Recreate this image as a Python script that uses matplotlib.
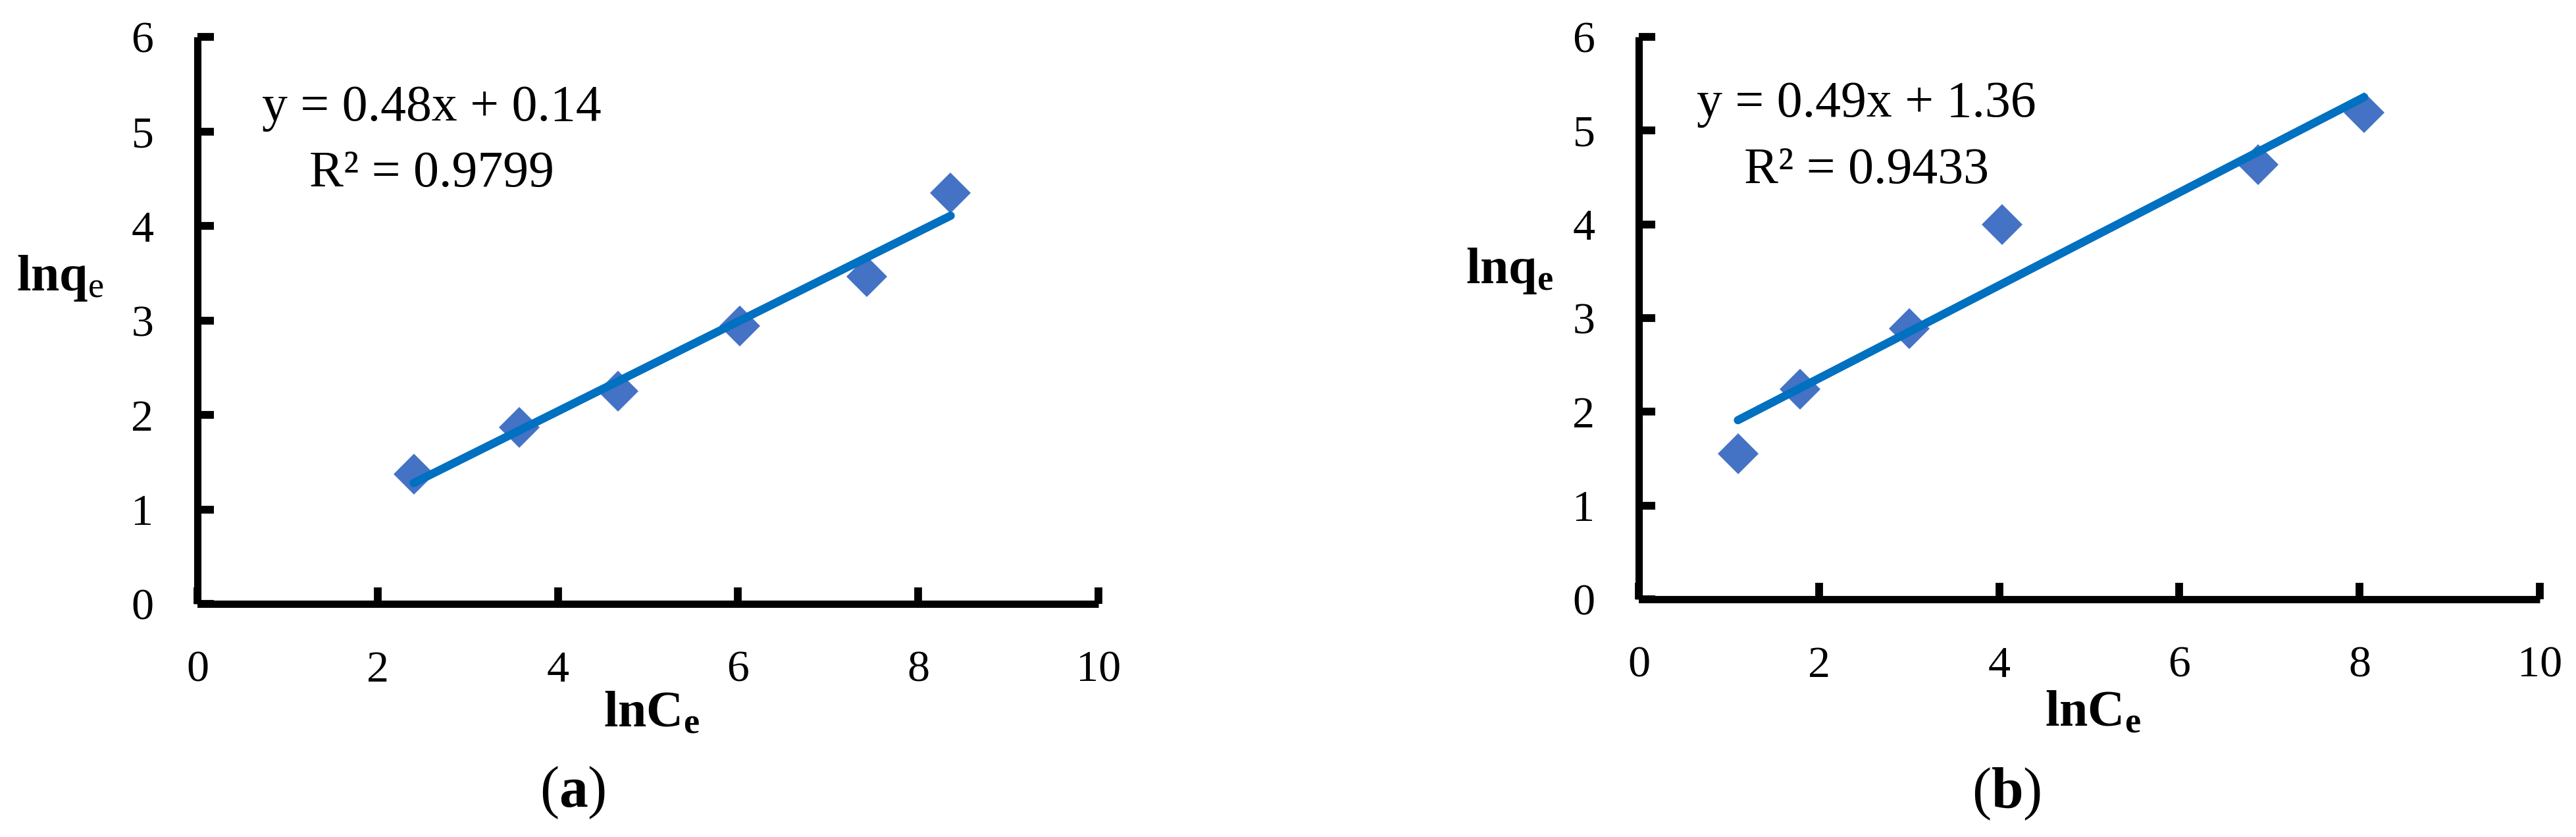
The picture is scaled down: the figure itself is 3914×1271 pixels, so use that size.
import numpy as np
import matplotlib
matplotlib.use("Agg")
import matplotlib.pyplot as plt


# panel (a)
lnCe_a = [2.40, 3.57, 4.67, 6.02, 7.43, 8.36]
lnqe_a = [1.37, 1.87, 2.25, 2.94, 3.46, 4.35]
eq_a = ["y = 0.48x + 0.14", "R\u00b2 = 0.9799"]

# panel (b)
lnCe_b = [1.10, 1.79, 3.00, 4.03, 6.87, 8.05]
lnqe_b = [1.55, 2.24, 2.89, 4.00, 4.64, 5.19]
eq_b = ["y = 0.49x + 1.36", "R\u00b2 = 0.9433"]

xticks = [0, 2, 4, 6, 8, 10]
yticks = [0, 1, 2, 3, 4, 5, 6]

marker_color = '#4472C4'
line_color = '#0070C0'

plt.rcParams['font.family'] = 'Liberation Serif'
plt.rcParams['mathtext.fontset'] = 'custom'
plt.rcParams['mathtext.rm'] = 'Liberation Serif'
plt.rcParams['mathtext.bf'] = 'Liberation Serif:bold'
plt.rcParams['mathtext.it'] = 'Liberation Serif:italic'

fig = plt.figure(figsize=(39.14, 12.71), dpi=100)
ax_a = fig.add_axes([0.07665, 0.27852, 0.34977, 0.67742])
ax_b = fig.add_axes([0.63618, 0.28403, 0.34977, 0.67190])

panels = [
    (ax_a, lnCe_a, lnqe_a, eq_a, (2.60, 5.115, 4.418),
     r'$\mathbf{lnq}_{\mathrm{e}}$', (-0.2009, 0.5528), -0.2172),
    (ax_b, lnCe_b, lnqe_b, eq_b, (2.53, 5.151, 4.441),
     r'$\mathbf{lnq}_{\mathbf{e}}$', (-0.1921, 0.562), -0.226),
]

for ax, xs, ys, eq, eq_pos, ylab, ylab_pos, xlab_y in panels:
    xs = np.array(xs)
    ys = np.array(ys)
    ax.plot(xs, ys, 'D', ms=32, color=marker_color, mew=0, zorder=2,
            clip_on=False)
    k, b = np.polyfit(xs, ys, 1)
    xf = np.array([xs.min(), xs.max()])
    ax.plot(xf, k * xf + b, color=line_color, lw=9, solid_capstyle='round',
            zorder=3)

    ax.set_xlim(0, 10)
    ax.set_ylim(0, 6)
    ax.set_xticks(xticks)
    ax.set_yticks(yticks)
    ax.tick_params(axis='both', direction='in', length=18, width=8.5,
                   labelsize=49, color='black')
    ax.tick_params(axis='x', pad=51)
    ax.tick_params(axis='y', pad=48)
    for s in ['top', 'right']:
        ax.spines[s].set_visible(False)
    for s in ['left', 'bottom']:
        ax.spines[s].set_linewidth(8)
        ax.spines[s].set_capstyle('butt')

    ax.text(eq_pos[0], eq_pos[1], eq[0], fontsize=56, ha='center',
            va='baseline')
    ax.text(eq_pos[0], eq_pos[2], eq[1], fontsize=56, ha='center',
            va='baseline')

    ax.text(0.504, xlab_y, r'$\mathbf{lnC}_{\mathbf{e}}$', fontsize=56,
            ha='center', va='baseline', transform=ax.transAxes)
    ax.text(ylab_pos[0], ylab_pos[1], ylab, fontsize=56, ha='left',
            va='baseline', transform=ax.transAxes)

fig.text(0.2223, 0.0362, r'($\mathbf{a}$)', fontsize=63, ha='center',
         va='baseline')
fig.text(0.7790, 0.0346, r'($\mathbf{b}$)', fontsize=63, ha='center',
         va='baseline')

plt.savefig("out.png", dpi=100)
